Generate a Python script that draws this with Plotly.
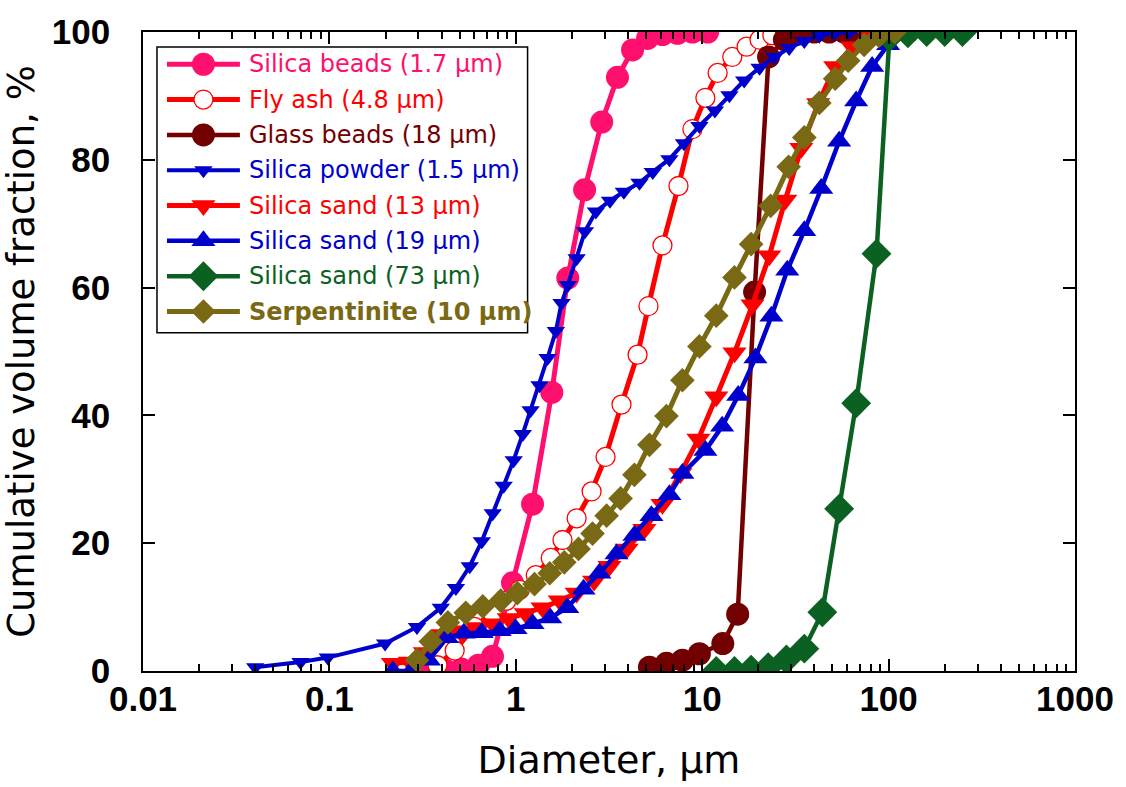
import plotly.graph_objects as go

# Particle size distributions: diameter (µm) vs cumulative volume fraction (%)
beads_d = [0.34, 0.42, 0.51, 0.63, 0.75, 0.96, 1.23, 1.56, 1.90, 2.34, 2.89, 3.51,
           4.23, 5.09, 6.12, 7.37, 8.86, 10.7]
beads_f = [0.0, 0.1, 0.3, 0.9, 2.3, 13.8, 26.1, 43.6, 61.5, 75.3, 85.9, 92.9,
           97.2, 99.0, 99.6, 99.8, 100, 100]

flyash_d = [0.38, 0.47, 0.60, 0.75, 0.89, 1.05, 1.28, 1.54, 1.78, 2.12, 2.55, 3.03,
            3.69, 4.50, 5.15, 6.12, 7.46, 8.86, 10.4, 12.1, 14.5, 17.3, 20.3, 23.8, 27.9]
flyash_f = [0.9, 3.2, 6.9, 9.1, 11.0, 12.7, 15.0, 17.7, 20.5, 23.9, 28.1, 33.5,
            41.7, 49.5, 57.1, 66.6, 75.9, 84.8, 89.7, 93.6, 96.1, 97.7, 98.8, 99.5, 99.8]

glass_d = [5.21, 6.43, 7.83, 9.66, 12.9, 15.5, 19.1, 22.7, 27.6, 33.2, 39.9, 48.0,
           57.8, 67.8]
glass_f = [0.6, 1.2, 1.7, 2.7, 4.3, 8.9, 59.3, 96.1, 98.8, 99.7, 100, 100, 100, 100]

powder_d = [0.040, 0.070, 0.098, 0.199, 0.295, 0.396, 0.477, 0.566, 0.657, 0.752,
            0.861, 0.974, 1.09, 1.20, 1.34, 1.48, 1.64, 1.76, 1.90, 2.12, 2.35,
            2.69, 3.20, 3.80, 4.61, 5.43, 6.67, 7.98, 9.66, 11.7, 14.0, 16.8,
            20.3, 24.4, 29.3, 35.3, 42.5, 51.1, 61.5, 74.0]
powder_f = [0.6, 1.4, 2.1, 4.3, 6.9, 9.9, 13.0, 16.4, 20.3, 24.7, 29.0, 33.0,
            37.1, 40.8, 44.7, 49.0, 53.2, 57.6, 60.4, 64.6, 68.8, 71.9, 73.6,
            75.0, 76.4, 78.1, 80.1, 82.6, 85.3, 87.7, 90.1, 92.4, 94.4, 96.1,
            97.5, 98.6, 99.4, 99.8, 100, 100]

sand13_d = [0.219, 0.270, 0.325, 0.406, 0.501, 0.617, 0.752, 0.916, 1.13, 1.39,
            1.72, 2.12, 2.63, 3.18, 3.93, 4.90, 6.12, 7.64, 9.54, 11.9, 14.9,
            18.6, 22.9, 27.9, 34.0, 41.9, 51.7, 63.8, 78.6, 98.2, 121]
sand13_f = [1.2, 1.4, 2.9, 5.7, 6.3, 6.8, 7.4, 8.2, 9.0, 9.9, 11.0, 12.2, 14.1,
            16.4, 19.1, 22.2, 26.1, 30.9, 36.3, 42.9, 49.8, 57.3, 65.0, 73.7,
            81.8, 88.8, 94.6, 97.7, 99.2, 99.8, 100]

sand19_d = [0.219, 0.274, 0.342, 0.427, 0.526, 0.657, 0.820, 0.996, 1.23, 1.53,
            1.89, 2.31, 2.81, 3.47, 4.33, 5.34, 6.67, 7.83, 10.4, 12.8, 15.6,
            19.3, 23.5, 28.6, 35.3, 43.5, 54.3, 67.0, 81.6, 99.4, 121, 149, 187]
sand19_f = [0.0, 0.0, 1.7, 5.2, 5.9, 6.0, 6.3, 6.6, 7.4, 8.3, 9.9, 12.8, 15.3,
            18.3, 21.2, 24.3, 27.6, 30.9, 34.5, 38.3, 43.1, 49.0, 55.5, 62.7,
            68.9, 75.5, 82.9, 89.2, 94.6, 98.0, 99.5, 100, 100]

sand73_d = [11.9, 14.9, 18.3, 22.6, 28.3, 35.3, 44.1, 54.3, 67.0, 86.1, 101,
            127, 160, 200, 249]
sand73_f = [0.0, 0.0, 0.2, 0.6, 1.8, 3.5, 9.2, 25.4, 41.9, 65.3, 99.2, 99.8,
            100, 100, 100]

serp_d = [0.295, 0.350, 0.432, 0.539, 0.665, 0.830, 1.02, 1.26, 1.52, 1.82, 2.17,
          2.58, 3.07, 3.65, 4.33, 5.21, 6.43, 7.83, 9.66, 11.9, 14.9, 18.3,
          23.3, 29.1, 35.3, 42.5, 51.7, 60.7, 73.9, 88.9, 108]
serp_f = [1.7, 4.6, 7.6, 9.1, 10.1, 11.0, 12.2, 13.6, 15.3, 17.0, 19.1, 21.5,
          24.3, 27.0, 30.7, 35.4, 39.9, 45.5, 50.8, 55.6, 61.6, 66.8, 72.8,
          78.9, 83.5, 88.9, 92.7, 95.5, 98.0, 99.4, 100]

x_ticks = [0.01, 0.1, 1, 10, 100, 1000]
x_tick_text = ["0.01", "0.1", "1", "10", "100", "1000"]
y_ticks = [0, 20, 40, 60, 80, 100]

PINK = "#FF0F6E"
RED = "#FF0000"
MAROON = "#720000"
BLUE = "#0000CC"
GREEN = "#0B6121"
OLIVE = "#7A6914"

# name, x, y, colour, symbol, marker size, marker fill, line width, bold label
series = [
    ("Silica beads (1.7 µm)", beads_d, beads_f, PINK, "circle", 23, PINK, 5, False),
    ("Fly ash (4.8 µm)", flyash_d, flyash_f, RED, "circle", 19, "white", 5, False),
    ("Glass beads (18 µm)", glass_d, glass_f, MAROON, "circle", 23, MAROON, 4.5, False),
    ("Silica powder (1.5 µm)", powder_d, powder_f, BLUE, "triangle-down", 16, BLUE, 4, False),
    ("Silica sand (13 µm)", sand13_d, sand13_f, RED, "triangle-down", 21, RED, 5, False),
    ("Silica sand (19 µm)", sand19_d, sand19_f, BLUE, "triangle-up", 21, BLUE, 4.5, False),
    ("Silica sand (73 µm)", sand73_d, sand73_f, GREEN, "diamond", 23, GREEN, 4.5, False),
    ("Serpentinite (10 µm)", serp_d, serp_f, OLIVE, "diamond", 19, OLIVE, 5, True),
]

W, H = 1126, 787
PL, PR, PT, PB = 143, 1076, 27, 671   # plot-area edges in pixels

fig = go.Figure()
for name, xd, yf, color, symbol, size, fill, lw, bold in series:
    fig.add_trace(go.Scatter(
        x=xd, y=yf, mode="lines+markers", name=name, showlegend=False,
        line=dict(color=color, width=lw),
        marker=dict(symbol=symbol, size=size, color=fill,
                    line=dict(color=color, width=1.3 if fill == "white" else 0)),
    ))

# Legend drawn on a pixel-scaled overlay so the sample lines can be long
LEG_L, LEG_R, LEG_T, LEG_B = 157, 528, 42, 330
ROW0, ROW_STEP = 59.5, 35.6
SAMPLE_X0, SAMPLE_X1, TEXT_X = 167, 240, 247

fig.add_shape(type="rect", xref="paper", yref="paper", layer="below",
              x0=(LEG_L - PL) / (PR - PL), x1=(LEG_R - PL) / (PR - PL),
              y0=(PB - LEG_B) / (PB - PT), y1=(PB - LEG_T) / (PB - PT),
              fillcolor="white", line=dict(color="black", width=1.5))

for i, (name, xd, yf, color, symbol, size, fill, lw, bold) in enumerate(series):
    ry = ROW0 + i * ROW_STEP
    fig.add_trace(go.Scatter(
        x=[SAMPLE_X0, SAMPLE_X1], y=[ry, ry], mode="lines", showlegend=False,
        xaxis="x2", yaxis="y2", line=dict(color=color, width=lw), hoverinfo="skip",
    ))
    fig.add_trace(go.Scatter(
        x=[(SAMPLE_X0 + SAMPLE_X1) / 2], y=[ry], mode="markers", showlegend=False,
        xaxis="x2", yaxis="y2", hoverinfo="skip",
        marker=dict(symbol=symbol, size=size, color=fill,
                    line=dict(color=color, width=1.3 if fill == "white" else 0)),
    ))
    label = f"<b>{name}</b>" if bold else name
    fig.add_annotation(
        x=(TEXT_X - PL) / (PR - PL), y=(PB - ry) / (PB - PT),
        xref="paper", yref="paper", xanchor="left", yanchor="middle",
        text=label, showarrow=False,
        font=dict(family="DejaVu Sans, Verdana, sans-serif", size=24, color=color),
    )

tick_font = dict(family="Liberation Sans, Arial, sans-serif",
                 size=35, color="black", weight="bold")
title_font = "DejaVu Sans, Verdana, sans-serif"

fig.update_layout(
    width=W, height=H,
    margin=dict(l=PL, r=W - PR, t=PT, b=H - PB),
    paper_bgcolor="white", plot_bgcolor="white",
    showlegend=False,
    xaxis=dict(
        type="log", range=[-2, 3],
        tickvals=x_ticks, ticktext=x_tick_text, tickfont=tick_font,
        ticks="inside", ticklen=12, tickwidth=1.5, tickcolor="black",
        showline=True, linecolor="black", linewidth=1.5, mirror="ticks",
        showgrid=False, zeroline=False, ticklabelstandoff=-4,
        minor=dict(ticks="inside", ticklen=7, tickwidth=1.5, tickcolor="black",
                   dtick="D1", showgrid=False),
        title=dict(text="Diameter, µm", standoff=30,
                   font=dict(family=title_font, size=38, color="black")),
    ),
    yaxis=dict(
        range=[0, 100], tickvals=y_ticks, tickfont=tick_font,
        ticks="inside", ticklen=12, tickwidth=1.5, tickcolor="black",
        showline=True, linecolor="black", linewidth=1.5, mirror="ticks",
        showgrid=False, zeroline=False, ticklabelstandoff=24,
        title=dict(text="Cumulative volume fraction, %", standoff=8,
                   font=dict(family=title_font, size=37, color="black")),
    ),
    xaxis2=dict(overlaying="x", anchor="y2", range=[PL, PR], visible=False,
                fixedrange=True),
    yaxis2=dict(overlaying="y", anchor="x2", range=[PB, PT], visible=False,
                fixedrange=True),
)

fig.write_html("out.html")
